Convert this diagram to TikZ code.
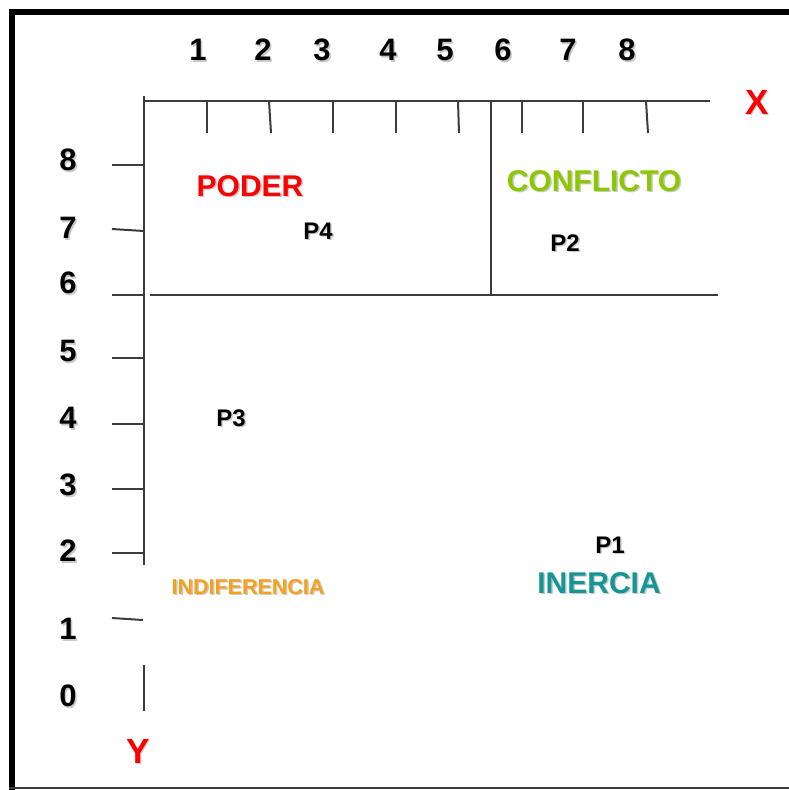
\documentclass[tikz,border=0pt]{standalone}
\usepackage{fontspec}
\setmainfont{Liberation Sans}
\definecolor{axisgray}{RGB}{60,60,60}
\definecolor{poderred}{RGB}{255,0,0}
\definecolor{conflgreen}{RGB}{140,200,0}
\definecolor{inerteal}{RGB}{20,150,150}
\definecolor{indiforange}{RGB}{247,160,30}
\tikzset{
  axisline/.style={draw=axisgray, line width=2pt},
  num/.style={font=\fontsize{31}{31}\selectfont\bfseries, text=black, inner sep=0pt, anchor=center},
  ptlbl/.style={font=\fontsize{24}{24}\selectfont\bfseries, text=black, inner sep=0pt, anchor=center},
  zone/.style={font=\fontsize{30}{30}\selectfont\bfseries, inner sep=0pt, anchor=center},
  axlbl/.style={font=\fontsize{35}{35}\selectfont\bfseries, text=poderred, inner sep=0pt, anchor=center},
  shd/.style={text=black!35, text opacity=0.6}
}
\newcommand{\slabel}[5]{%
  \node[#3, shd] (#1s) at ([shift={(1.5,1.5)}]#2) {#5};
  \node[#3, #4] (#1) at (#2) {#5};}
\begin{document}
\begin{tikzpicture}[x=1pt, y=-1pt]
\useasboundingbox (0,0) rectangle (789,790);
\fill[white] (0,0) rectangle (789,790);
% frame
\fill[black] (9,9) rectangle (789,15);
\fill[black] (9,9) rectangle (15,790);
\fill[axisgray] (9,787) rectangle (789,789);
% coordinates
\coordinate (o) at (144,101);
\coordinate (xend) at (710,101);
\coordinate (yend) at (144,565);
\coordinate (ostart) at (144,96);
\coordinate (sepT) at (491,101);
\coordinate (sepB) at (491,295);
\coordinate (hL) at (150,295);
\coordinate (hR) at (718,295);
% axes
\draw[axisline] (ostart) -- (yend);
\draw[axisline] (o) -- (xend);
\draw[axisline] (sepT) -- (sepB);
\draw[axisline] (hL) -- (hR);
% x ticks
\foreach \x/\xb in {207/207,269/271,333/333,396/396,458/459,522/522,583/583,646/648}{
  \coordinate (tA) at (\x,101); \coordinate (tB) at (\xb,133);
  \draw[axisline] (tA) -- (tB);
}
% y ticks
\foreach \y/\yb in {165/165,229/231,295/295,358/358,424/424,489/489,553/553}{
  \coordinate (tA) at (112,\y); \coordinate (tB) at (144,\yb);
  \draw[axisline] (tA) -- (tB);
}
\coordinate (t1a) at (112,618); \coordinate (t1b) at (143,620);
\draw[axisline] (t1a) -- (t1b);
\coordinate (z0a) at (144,665); \coordinate (z0b) at (144,711);
\draw[axisline] (z0a) -- (z0b);
% top numbers
\foreach \n/\x in {1/198,2/263,3/322,4/388,5/445,6/503,7/568,8/627}{
  \slabel{tx\n}{\x,50}{num}{}{\n}
}
% left numbers
\foreach \n/\y in {8/160,7/228,6/283,5/351,4/418,3/485,2/551,1/629,0/696}{
  \slabel{ly\n}{68,\y}{num}{}{\n}
}
% axis labels
\slabel{X}{757,102}{axlbl}{}{X}
\slabel{Y}{138,751}{axlbl}{}{Y}
% zones
\slabel{poder}{250,186}{zone}{text=poderred}{PODER}
\slabel{confl}{594,181}{zone}{text=conflgreen}{CONFLICTO}
\slabel{inercia}{599,583}{zone}{text=inerteal}{INERCIA}
\slabel{indif}{248,587}{zone,font=\fontsize{21.5}{22}\selectfont\bfseries}{text=indiforange}{INDIFERENCIA}
% points
\slabel{p4}{318,231}{ptlbl}{}{P4}
\slabel{p2}{565,243}{ptlbl}{}{P2}
\slabel{p3}{231,418}{ptlbl}{}{P3}
\slabel{p1}{610,545}{ptlbl}{}{P1}
\end{tikzpicture}
\end{document}
